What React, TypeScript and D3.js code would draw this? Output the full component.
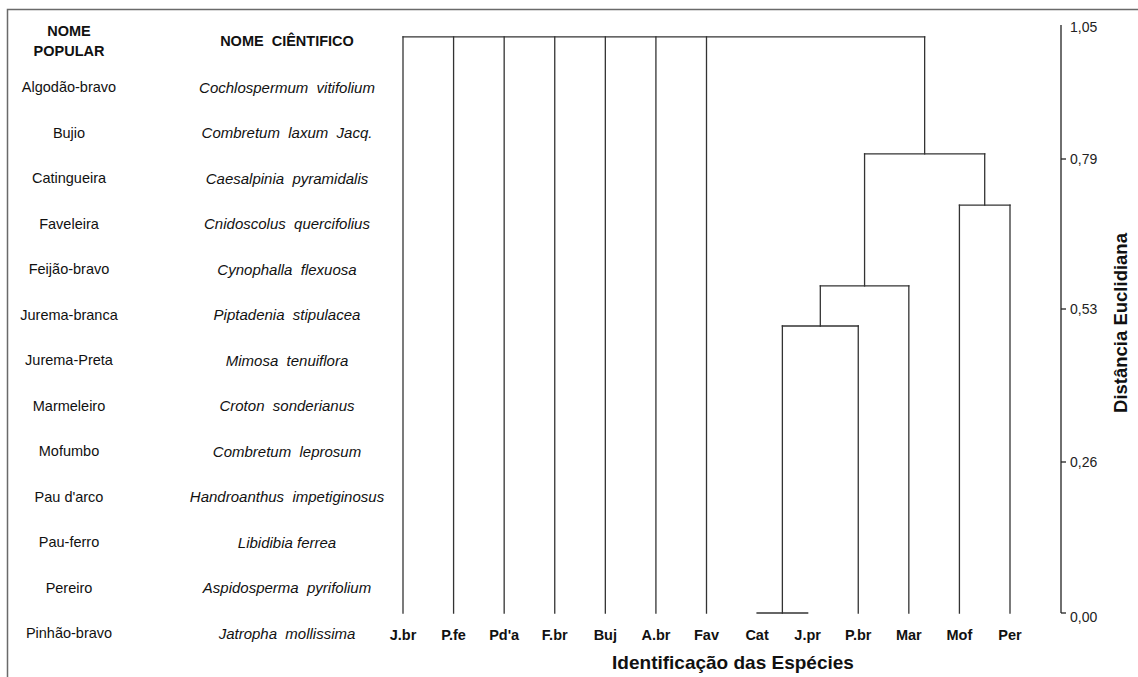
import React from "react";
import * as d3 from "d3";

// leaves of the dendrogram, left to right
const leafCodes = ["J.br", "P.fe", "Pd'a", "F.br", "Buj", "A.br", "Fav", "Cat", "J.pr", "P.br", "Mar", "Mof", "Per"];

// merges, in order of height
const mergeIds = ["c1", "c2", "c3", "c4", "c5", "root"];
const mergeChildren = [
  ["Cat", "J.pr"],
  ["c1", "P.br"],
  ["c2", "Mar"],
  ["Mof", "Per"],
  ["c3", "c4"],
  ["J.br", "P.fe", "Pd'a", "F.br", "Buj", "A.br", "Fav", "c5"],
];
const mergeHeights = [0, 0.5, 0.57, 0.71, 0.8, 1.027];

const tickValues = [0, 0.26, 0.53, 0.79, 1.05];
const tickLabels = ["0,00", "0,26", "0,53", "0,79", "1,05"];

const popularNames = [
  "Algodão-bravo", "Bujio", "Catingueira", "Faveleira", "Feijão-bravo", "Jurema-branca",
  "Jurema-Preta", "Marmeleiro", "Mofumbo", "Pau d'arco", "Pau-ferro", "Pereiro", "Pinhão-bravo",
];
const scientificNames = [
  "Cochlospermum  vitifolium", "Combretum  laxum  Jacq.", "Caesalpinia  pyramidalis",
  "Cnidoscolus  quercifolius", "Cynophalla  flexuosa", "Piptadenia  stipulacea",
  "Mimosa  tenuiflora", "Croton  sonderianus", "Combretum  leprosum",
  "Handroanthus  impetiginosus", "Libidibia ferrea", "Aspidosperma  pyrifolium",
  "Jatropha  mollissima",
];

const W = 1138;
const H = 677;
const FONT = "'Liberation Sans', Arial, sans-serif";
const LINE = "#333";

export default function App() {
  const x = d3.scalePoint<string>().domain(leafCodes).range([403, 1010]);
  // the axis of the original is not quite even at the top, so the scale follows the ticks
  const y = d3.scaleLinear().domain(tickValues).range([613, 462, 309, 159, 25]);
  const rowY = d3.scalePoint<string>().domain(popularNames).range([87, 633]);

  // positions of every node
  const posX: Record<string, number> = {};
  const posH: Record<string, number> = {};
  leafCodes.forEach((c) => {
    posX[c] = x(c) as number;
    posH[c] = 0;
  });
  const segs: { x1: number; y1: number; x2: number; y2: number }[] = [];
  mergeIds.forEach((id, i) => {
    const kids = mergeChildren[i];
    const h = mergeHeights[i];
    const xs = kids.map((k) => posX[k]);
    const lo = d3.min(xs) as number;
    const hi = d3.max(xs) as number;
    segs.push({ x1: lo, y1: y(h), x2: hi, y2: y(h) });
    kids.forEach((k) => {
      if (posH[k] !== h) segs.push({ x1: posX[k], y1: y(posH[k]), x2: posX[k], y2: y(h) });
    });
    posX[id] = (lo + hi) / 2;
    posH[id] = h;
  });

  const axisX = 1061;

  return (
    <svg
      width={W}
      height={H}
      style={{ position: "absolute", left: 0, top: 0, background: "#fff" }}
      fontFamily={FONT}
    >
      <rect x={7.5} y={9.5} width={W + 20} height={H + 20} fill="none" stroke="#6a6a6a" strokeWidth={1.5} />

      {/* table on the left */}
      <g fill="#111" fontSize={14.5}>
        <text x={69} y={31} textAnchor="middle" dominantBaseline="central" fontWeight="bold">NOME</text>
        <text x={69} y={51} textAnchor="middle" dominantBaseline="central" fontWeight="bold">POPULAR</text>
        <text x={287} y={41} textAnchor="middle" dominantBaseline="central" fontWeight="bold" style={{ whiteSpace: "pre" }}>
          {"NOME  CIÊNTIFICO"}
        </text>
        {popularNames.map((p, i) => (
          <g key={p}>
            <text x={69} y={rowY(p)} textAnchor="middle" dominantBaseline="central">{p}</text>
            <text
              x={287}
              y={rowY(p)}
              textAnchor="middle"
              dominantBaseline="central"
              fontStyle="italic"
              fontSize={15}
              style={{ whiteSpace: "pre" }}
            >
              {scientificNames[i]}
            </text>
          </g>
        ))}
      </g>

      {/* dendrogram */}
      <g stroke={LINE} strokeWidth={1.3} strokeLinecap="square">
        {segs.map((s, i) => (
          <line key={i} x1={s.x1} y1={s.y1} x2={s.x2} y2={s.y2} />
        ))}
      </g>

      {/* leaf labels */}
      <g fontSize={14.5} fontWeight="bold" fill="#111">
        {leafCodes.map((c) => (
          <text key={c} x={x(c)} y={640} textAnchor="middle">{c}</text>
        ))}
      </g>
      <text x={733} y={669} textAnchor="middle" fontSize={19} fontWeight="bold" fill="#111">
        Identificação das Espécies
      </text>

      {/* distance axis */}
      <g stroke="#222" strokeWidth={1.3}>
        <line x1={axisX} y1={y(1.05)} x2={axisX} y2={y(0)} />
        {tickValues.slice(0, 4).map((t) => (
          <line key={t} x1={axisX} y1={y(t)} x2={axisX + 5} y2={y(t)} />
        ))}
      </g>
      <g fontSize={14} fill="#222">
        {tickValues.map((t, i) => (
          <text key={t} x={axisX + 9} y={y(t) + (t === 0 ? 4 : t === 1.05 ? 2 : 0)} dominantBaseline="central">
            {tickLabels[i]}
          </text>
        ))}
      </g>
      <text
        transform={`translate(1120, ${y(0.53) + 14}) rotate(-90)`}
        textAnchor="middle"
        dominantBaseline="central"
        fontSize={18.5}
        fontWeight="bold"
        fill="#111"
      >
        Distância Euclidiana
      </text>
    </svg>
  );
}
